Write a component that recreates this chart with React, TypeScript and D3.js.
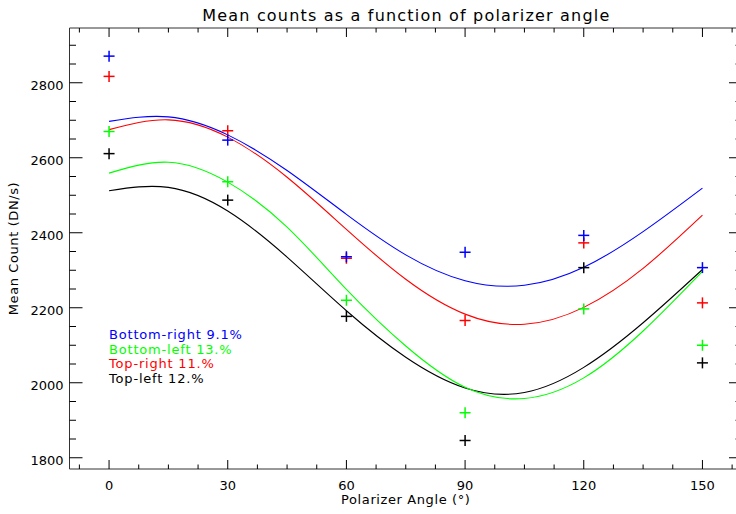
import React from "react";
import * as d3 from "d3";

// ---- data ----
const angles = [0, 30, 60, 90, 120, 150];
const bottomRight = [2871, 2647, 2336, 2348, 2393, 2307];
const bottomLeft = [2670, 2536, 2220, 1920, 2197, 2100];
const topRight = [2817, 2672, 2332, 2166, 2373, 2213];
const topLeft = [2611, 2487, 2177, 1846, 2307, 2053];

const fitAngles = [0, 15, 30, 45, 60, 75, 90, 105, 120, 135, 150];
const fitBottomRight = [2697, 2709, 2661, 2566, 2449, 2341, 2272, 2260, 2308, 2403, 2519];
const fitTopRight = [2675, 2701, 2655, 2548, 2409, 2276, 2183, 2156, 2201, 2305, 2447];
const fitBottomLeft = [2559, 2588, 2535, 2415, 2249, 2098, 1988, 1958, 2013, 2138, 2297];
const fitTopLeft = [2512, 2521, 2458, 2335, 2192, 2068, 1986, 1974, 2041, 2160, 2302];

const legendLabels = ["Bottom-right 9.1%", "Bottom-left 13.%", "Top-right 11.%", "Top-left 12.%"];
const legendColors = ["#0000ff", "#00ff00", "#ff0000", "#000000"];

const xMajorTicks = [0, 30, 60, 90, 120, 150];
const yMajorTicks = [1800, 2000, 2200, 2400, 2600, 2800];

const title = "Mean counts as a function of polarizer angle";
const xLabel = "Polarizer Angle (\u00b0)";
const yLabel = "Mean Count (DN/s)";

// ---- layout ----
const W = 736;
const H = 514;
const left = 69.5;
const right = 742;
const top = 28;
const bottom = 469;
const FONT = "'DejaVu Sans', sans-serif";

const x = d3.scaleLinear().domain([-10, 160]).range([left, right]);
const y = d3.scaleLinear().domain([1770, 2946]).range([bottom, top]);

const xMinor = d3.range(-7.5, 160, 7.5).filter((v) => !xMajorTicks.includes(v));
const yMinor = d3.range(1800, 2946, 50).filter((v) => !yMajorTicks.includes(v));

const line = d3
  .line<[number, number]>()
  .x((d) => x(d[0]))
  .y((d) => y(d[1]))
  .curve(d3.curveNatural);

// drawing order: black, red, green, blue (blue on top)
const series = [
  { pts: topLeft, fit: fitTopLeft, color: "#000000" },
  { pts: topRight, fit: fitTopRight, color: "#ff0000" },
  { pts: bottomLeft, fit: fitBottomLeft, color: "#00ff00" },
  { pts: bottomRight, fit: fitBottomRight, color: "#0000ff" },
];

const CR = 5.5;
const axisColor = "#333";

export default function App() {
  return (
    <svg
      width={W}
      height={H}
      style={{ position: "absolute", left: 0, top: 0, background: "#fff" }}
      fontFamily={FONT}
    >
      <rect x={0} y={0} width={W} height={H} fill="#fff" />
      {/* title */}
      <text x={(left + right) / 2} y={21} fontSize={16} textAnchor="middle" fill="#000" textLength={407} lengthAdjust="spacing">
        {title}
      </text>

      {/* axes box */}
      <g stroke={axisColor} strokeWidth={1} fill="none">
        <line x1={left} y1={bottom} x2={right} y2={bottom} />
        <line x1={left} y1={top} x2={right} y2={top} />
        <line x1={left} y1={top} x2={left} y2={bottom} />
        <line x1={right} y1={top} x2={right} y2={bottom} />
      </g>

      {/* ticks */}
      <g stroke="#000" strokeWidth={1}>
        {xMajorTicks.map((t) => (
          <g key={"xm" + t}>
            <line x1={x(t)} x2={x(t)} y1={bottom} y2={bottom - 9} />
            <line x1={x(t)} x2={x(t)} y1={top} y2={top + 9} />
          </g>
        ))}
        {xMinor.map((t) => (
          <g key={"xn" + t}>
            <line x1={x(t)} x2={x(t)} y1={bottom} y2={bottom - 4.5} />
            <line x1={x(t)} x2={x(t)} y1={top} y2={top + 4.5} />
          </g>
        ))}
        {yMajorTicks.map((t) => (
          <g key={"ym" + t}>
            <line x1={left} x2={left + 13} y1={y(t)} y2={y(t)} />
            <line x1={right} x2={right - 13} y1={y(t)} y2={y(t)} />
          </g>
        ))}
        {yMinor.map((t) => (
          <g key={"yn" + t}>
            <line x1={left} x2={left + 6.5} y1={y(t)} y2={y(t)} />
            <line x1={right} x2={right - 6.5} y1={y(t)} y2={y(t)} />
          </g>
        ))}
      </g>

      {/* tick labels */}
      <g fontSize={13} fill="#000">
        {xMajorTicks.map((t) => (
          <text key={"xl" + t} x={x(t)} y={490} textAnchor="middle">
            {t}
          </text>
        ))}
        {yMajorTicks.map((t) => (
          <text key={"yl" + t} x={63.5} y={y(t) + 7.5} textAnchor="end">
            {t}
          </text>
        ))}
      </g>

      {/* axis titles */}
      <text x={(left + right) / 2} y={504} fontSize={13} textAnchor="middle" fill="#000" letterSpacing={0.6}>
        {xLabel}
      </text>
      <text
        transform={`translate(18,${(top + bottom) / 2}) rotate(-90)`}
        fontSize={13}
        textAnchor="middle"
        fill="#000"
        letterSpacing={0.6}
      >
        {yLabel}
      </text>

      {/* fit curves */}
      {series.map((s, i) => (
        <path
          key={"c" + i}
          d={line(fitAngles.map((a, j) => [a, s.fit[j]] as [number, number])) || ""}
          fill="none"
          stroke={s.color}
          strokeWidth={1.1}
        />
      ))}

      {/* data crosses */}
      {series.map((s, i) => (
        <g key={"p" + i} stroke={s.color} strokeWidth={1.5}>
          {angles.map((a, j) => (
            <g key={j}>
              <line x1={x(a) - CR} x2={x(a) + CR} y1={y(s.pts[j])} y2={y(s.pts[j])} />
              <line x1={x(a)} x2={x(a)} y1={y(s.pts[j]) - CR} y2={y(s.pts[j]) + CR} />
            </g>
          ))}
        </g>
      ))}

      {/* legend */}
      <g fontSize={13} letterSpacing={0.8}>
        {legendLabels.map((l, i) => (
          <text key={l} x={x(0)} y={339 + i * 14.7} fill={legendColors[i]}>
            {l}
          </text>
        ))}
      </g>
    </svg>
  );
}
